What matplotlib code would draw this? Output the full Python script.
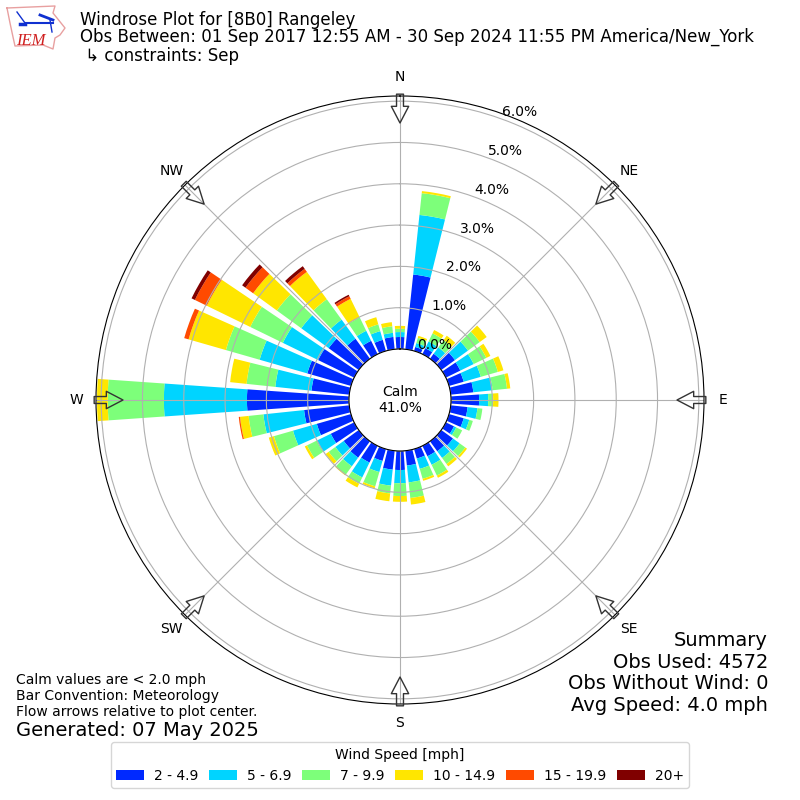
import matplotlib
matplotlib.use("Agg")
import matplotlib.pyplot as plt
import numpy as np
from matplotlib.patches import Patch

directions = list(range(0, 360, 10))
compass_angles = [0, 45, 90, 135, 180, 225, 270, 315]
compass_labels = ["N", "NE", "E", "SE", "S", "SW", "W", "NW"]
speed_labels = ["2 - 4.9", "5 - 6.9", "7 - 9.9", "10 - 14.9", "15 - 19.9", "20+"]
speed_colors = ["#0029ff", "#00d4ff", "#7dff7a", "#ffe600", "#ff4a00", "#800000"]

# cumulative percent reached by each speed class, one value per direction
top_2_5 = [.29, 1.82, .10, .16, .15, .41, .39, .37, .55, .68, .41, .37,
           .22, .35, .30, .28, .24, .36, .46, .46, .30, .45, .49, .45,
           .63, .86, 1.10, 2.47, .92, 1.10, .97, .90, .60, .36, .28, .30]
top_5_7 = [.41, 3.27, .20, .34, .34, .80, .75, .80, 1.02, .90, .65, .51,
           .28, .55, .50, .51, .50, .77, .78, .85, .58, .85, .75, .70,
           1.01, 1.46, 2.09, 4.48, 1.80, 2.30, 1.92, 1.72, 1.17, .63, .50, .40]
top_7_10 = [.49, 3.80, .33, .56, .56, 1.15, 1.09, 1.23, 1.37, 1.02, .77, .60,
            .44, .72, .68, .80, .75, 1.15, 1.09, 1.04, .94, 1.02, 1.00, .90,
            1.27, 1.94, 2.45, 5.84, 2.50, 3.15, 2.80, 2.45, 1.78, .99, .67, .56]
top_10_15 = [.56, 3.85, .38, .65, .69, 1.36, 1.20, 1.37, 1.45, 1.15, .77, .60,
             .44, .77, .75, .86, .80, 1.31, 1.23, 1.23, .99, 1.12, 1.02, .99,
             1.33, 2.07, 2.66, 6.10, 2.90, 4.09, 3.97, 3.16, 2.60, 1.49, .85, .66]
top_15_20 = [.56, 3.85, .38, .65, .69, 1.36, 1.20, 1.37, 1.45, 1.15, .77, .60,
             .44, .77, .75, .86, .80, 1.31, 1.23, 1.23, .99, 1.12, 1.02, .99,
             1.33, 2.07, 2.69, 6.10, 2.90, 4.20, 4.29, 3.39, 2.69, 1.56, .85, .66]
top_20 = [.56, 3.85, .38, .65, .69, 1.36, 1.20, 1.37, 1.45, 1.15, .77, .60,
          .44, .77, .75, .86, .80, 1.31, 1.23, 1.23, .99, 1.12, 1.02, .99,
          1.33, 2.07, 2.69, 6.10, 2.90, 4.20, 4.38, 3.49, 2.77, 1.60, .85, .66]
tops = [top_2_5, top_5_7, top_7_10, top_10_15, top_15_20, top_20]
summary_lines = ["Summary", "Obs Used: 4572", "Obs Without Wind: 0", "Avg Speed: 4.0 mph"]

fig = plt.figure(figsize=(8, 8), dpi=100)
ax = fig.add_axes([0.12, 0.12, 0.76, 0.76], projection="polar")
ax.set_theta_zero_location("N")
ax.set_theta_direction(-1)

theta = np.deg2rad(directions)
bottom = np.zeros(len(directions))
for top, color in zip(tops, speed_colors):
    top = np.array(top)
    ax.bar(theta, top - bottom, width=np.deg2rad(8), bottom=bottom, color=color,
           linewidth=0)
    bottom = top

ax.set_rorigin(-1.235)
ax.set_rlim(0, 6.125)
ax.set_rticks([0, 1, 2, 3, 4, 5, 6])
ax.set_yticklabels(["%.1f%%" % v for v in range(7)])
ax.set_rlabel_position(20)
ax.set_thetagrids(compass_angles, compass_labels)
ax.tick_params(axis="both", labelsize=10)

# flow arrows around the ring, tail on the spine and tip toward the center
for angle in compass_angles:
    a = np.deg2rad(angle)
    tail = (0.5 + 0.503 * np.sin(a), 0.5 + 0.503 * np.cos(a))
    tip = (0.5 + 0.4556 * np.sin(a), 0.5 + 0.4556 * np.cos(a))
    ax.annotate("", xy=tip, xytext=tail, xycoords="axes fraction",
                textcoords="axes fraction", zorder=5,
                arrowprops=dict(width=5, headwidth=12.5, headlength=12, shrink=0,
                                facecolor="none", edgecolor="#333333", linewidth=1))

ax.text(0.5, 0.5, "Calm\n41.0%", transform=ax.transAxes, ha="center", va="center",
        fontsize=10, zorder=6)

# titles
fig.text(0.1, 0.975, "Windrose Plot for [8B0] Rangeley", fontsize=12, va="center")
fig.text(0.1, 0.9535, "Obs Between: 01 Sep 2017 12:55 AM - 30 Sep 2024 11:55 PM "
         "America/New_York", fontsize=12, va="center")
fig.text(0.1, 0.93, " \u21b3 constraints: Sep", fontsize=12, va="center")

# IEM logo, rough state outline with the little wind symbol, pixel units
logo = fig.add_axes([0, 1 - 55 / 800, 70 / 800, 55 / 800])
logo.axis("off")
logo.set_xlim(0, 70)
logo.set_ylim(55, 0)
logo.plot([7, 55, 53, 65, 60, 55, 53, 43, 15, 13, 10, 7],
          [8, 6, 13, 28, 35, 38, 49, 45, 46, 37, 23, 8], color="#e8a0a0", lw=1)
logo.plot([25, 53], [23, 23], color="#1030d0", lw=1.5)
logo.plot([40, 53], [15, 20], color="#1030d0", lw=2)
logo.plot([50, 52], [20, 32], color="#1030d0", lw=1)
logo.plot([17, 25], [12, 23], color="#1030d0", lw=1)
logo.plot([20, 25], [24, 24], color="#1030d0", lw=2.5)
logo.text(16, 45, "IEM", color="#d02020", fontsize=12, style="italic",
          family="Liberation Serif")

# notes and summary
fig.text(0.02, 0.13, "Calm values are < 2.0 mph\nBar Convention: Meteorology\n"
         "Flow arrows relative to plot center.", fontsize=10, va="center",
         linespacing=1.15)
fig.text(0.02, 0.0875, "Generated: 07 May 2025", fontsize=14, va="center")
for i, line in enumerate(summary_lines):
    fig.text(0.96, (800 - 646 - i * 21.67) / 800, line, fontsize=14, ha="right",
             va="baseline")

handles = [Patch(facecolor=c, label=l) for c, l in zip(speed_colors, speed_labels)]
fig.legend(handles=handles, title="Wind Speed [mph]", ncol=6, loc="lower center",
           bbox_to_anchor=(0.5, 0.006), fontsize=10, columnspacing=0.8,
           handletextpad=0.7)

fig.savefig("out.png", dpi=100)
